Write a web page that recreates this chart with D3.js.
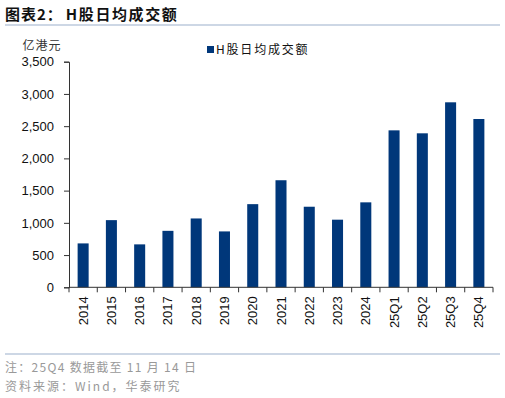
<!DOCTYPE html>
<html>
<head>
<meta charset="utf-8">
<script src="https://cdn.jsdelivr.net/npm/d3@7"></script>
<style>
  body { margin: 0; background: #fff; }
  svg { display: block; }
</style>
</head>
<body>
<svg id="chart" width="505" height="398"></svg>
<script>
// data
const categories = ['2014', '2015', '2016', '2017', '2018', '2019', '2020', '2021',
  '2022', '2023', '2024', '25Q1', '25Q2', '25Q3', '25Q4'];
const turnover = [681, 1042, 666, 876, 1068, 867, 1290, 1661,
  1250, 1049, 1318, 2435, 2389, 2870, 2611];
const yTicks = [0, 500, 1000, 1500, 2000, 2500, 3000, 3500];

const svg = d3.select('#chart');
const cjk = '"Noto Sans CJK SC", sans-serif';
const latin = '"Liberation Sans", Arial, sans-serif';
const barColor = '#00377a';

const m = { left: 69, right: 493, top: 61.7, bottom: 287.3 };

const x = d3.scaleBand()
  .domain(categories)
  .range([m.left, m.right])
  .paddingInner(0.61)
  .paddingOuter(0.305);

const y = d3.scaleLinear()
  .domain([0, 3500])
  .range([m.bottom, m.top]);

// title + rules
const title = svg.append('text')
  .attr('x', 5).attr('y', 20)
  .attr('font-family', cjk).attr('font-weight', 'bold')
  .attr('font-size', 15).attr('fill', '#111');
title.append('tspan').attr('letter-spacing', 1).text('图表2：');
title.append('tspan').attr('dx', 3).attr('letter-spacing', 1.6).text('H股日均成交额');
svg.append('line')
  .attr('x1', 5).attr('x2', 500).attr('y1', 25).attr('y2', 25)
  .attr('stroke', '#9cb0cc').attr('stroke-width', 1.2);
svg.append('line')
  .attr('x1', 5).attr('x2', 500).attr('y1', 354).attr('y2', 354)
  .attr('stroke', '#9cb0cc').attr('stroke-width', 1.2);

// bars
svg.append('g').selectAll('rect')
  .data(turnover)
  .join('rect')
  .attr('x', (d, i) => x(categories[i]))
  .attr('y', d => y(d))
  .attr('width', x.bandwidth())
  .attr('height', d => y(0) - y(d))
  .attr('fill', barColor);

// y axis
const yAxis = svg.append('g')
  .attr('transform', `translate(${m.left},0)`)
  .call(d3.axisLeft(y).tickValues(yTicks).tickSize(5).tickPadding(10)
    .tickFormat(d3.format(',')));
yAxis.select('.domain').attr('stroke', '#333');
yAxis.selectAll('.tick line').attr('stroke', '#333');
yAxis.selectAll('text')
  .attr('font-family', latin).attr('font-size', 13).attr('fill', '#111');

svg.append('text')
  .attr('x', 42).attr('y', 50)
  .attr('text-anchor', 'middle')
  .attr('font-family', cjk).attr('font-size', 12).attr('fill', '#333')
  .attr('letter-spacing', 1)
  .text('亿港元');

// x axis: ticks between categories
const xAxis = svg.append('g')
  .attr('transform', `translate(0,${m.bottom})`);
xAxis.append('line')
  .attr('x1', m.left).attr('x2', m.right)
  .attr('stroke', '#333');
const step = x.step();
xAxis.selectAll('.sep')
  .data(d3.range(categories.length + 1))
  .join('line')
  .attr('x1', i => m.left + i * step)
  .attr('x2', i => m.left + i * step)
  .attr('y1', 0).attr('y2', 5)
  .attr('stroke', '#333');
xAxis.selectAll('.lbl')
  .data(categories)
  .join('text')
  .attr('transform', d => `translate(${x(d) + x.bandwidth() / 2 + 4.5},9) rotate(-90)`)
  .attr('text-anchor', 'end')
  .attr('font-family', latin).attr('font-size', 13).attr('fill', '#111')
  .text(d => d);

// legend
svg.append('rect')
  .attr('x', 207).attr('y', 46).attr('width', 7).attr('height', 7)
  .attr('fill', barColor);
svg.append('text')
  .attr('x', 216).attr('y', 54)
  .attr('font-family', cjk).attr('font-size', 12).attr('fill', '#111')
  .attr('letter-spacing', 1.8)
  .text('H股日均成交额');

// notes
svg.append('text')
  .attr('x', 5).attr('y', 372)
  .attr('font-family', cjk).attr('font-size', 12).attr('fill', '#999')
  .attr('letter-spacing', 1.3)
  .text('注：25Q4 数据截至 11 月 14 日');
svg.append('text')
  .attr('x', 5).attr('y', 391)
  .attr('font-family', cjk).attr('font-size', 12).attr('fill', '#999')
  .attr('letter-spacing', 2)
  .text('资料来源：Wind，华泰研究');
</script>
</body>
</html>
